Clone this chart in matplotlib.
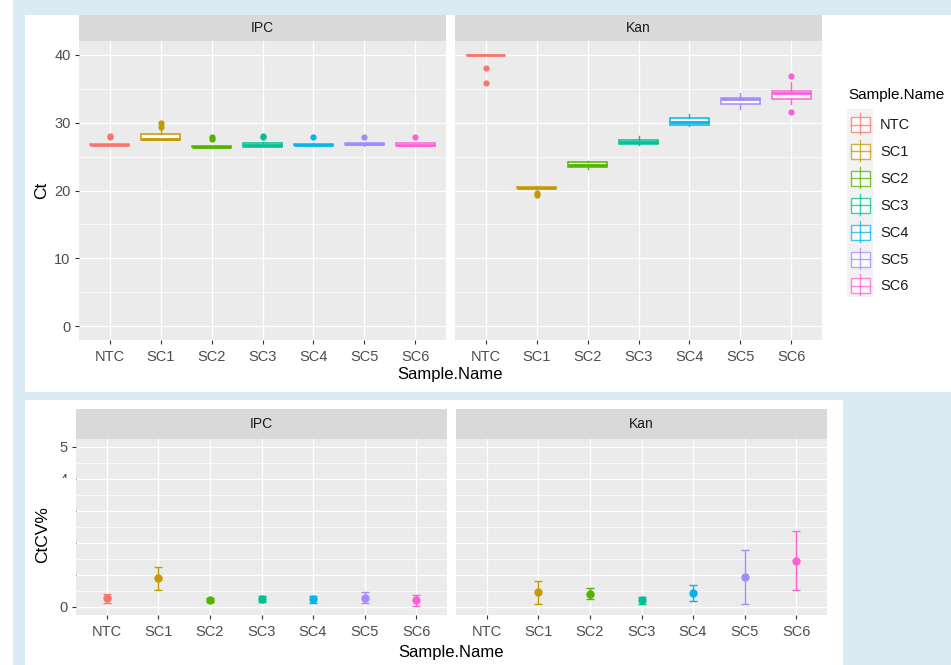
import numpy as np
import matplotlib
matplotlib.use("Agg")
import matplotlib.pyplot as plt
from matplotlib.patches import Rectangle

plt.rcParams['font.family'] = ['Liberation Sans', 'DejaVu Sans']

# ---- data -------------------------------------------------------------
samples = ["NTC", "SC1", "SC2", "SC3", "SC4", "SC5", "SC6"]
targets = ["IPC", "Kan"]
colors = ["#F8766D", "#C49A00", "#53B400", "#00C094", "#00B6EB", "#A58AFF", "#FB61D7"]

# Ct box statistics per target (q1, median, q3, lower whisker, upper whisker)
ipc_q1 = [26.70, 27.45, 26.40, 26.45, 26.70, 26.65, 26.60]
ipc_med = [26.75, 27.60, 26.45, 26.70, 26.75, 26.80, 26.75]
ipc_q3 = [26.80, 28.30, 26.50, 26.95, 26.85, 27.00, 27.00]
ipc_lo = [26.70, 27.40, 26.40, 26.40, 26.70, 26.60, 26.60]
ipc_hi = [26.80, 29.10, 26.55, 27.10, 27.00, 27.05, 27.05]
ipc_out = [[27.8, 28.0], [29.4, 30.0], [27.6, 27.8], [27.8, 28.0], [27.9], [27.9], [27.9]]

kan_q1 = [40.00, 20.30, 23.50, 26.80, 29.70, 32.75, 33.45]
kan_med = [40.00, 20.40, 23.75, 27.20, 30.15, 33.40, 34.40]
kan_q3 = [40.00, 20.55, 24.15, 27.50, 30.60, 33.60, 34.65]
kan_lo = [40.00, 20.20, 23.20, 26.70, 29.50, 32.00, 32.70]
kan_hi = [40.00, 20.70, 24.40, 28.00, 31.20, 34.30, 36.00]
kan_out = [[38.1, 35.8], [19.4, 19.7], [], [], [], [], [31.5, 36.8]]

# Ct coefficient of variation (%): mean with lower / upper bounds
ipc_cv = [0.28, 0.91, 0.23, 0.25, 0.25, 0.29, 0.21]
ipc_cv_lo = [0.14, 0.53, 0.17, 0.17, 0.14, 0.13, 0.03]
ipc_cv_hi = [0.41, 1.26, 0.29, 0.33, 0.35, 0.46, 0.37]
kan_cv = [np.nan, 0.46, 0.41, 0.21, 0.45, 0.95, 1.43]
kan_cv_lo = [np.nan, 0.08, 0.24, 0.09, 0.20, 0.08, 0.53]
kan_cv_hi = [np.nan, 0.82, 0.60, 0.32, 0.70, 1.79, 2.37]

ct_ticks = [0, 10, 20, 30, 40]
cv_ticks = [0, 1, 2, 3, 4, 5]

# ---- figure -----------------------------------------------------------
W, H = 951, 665
fig = plt.figure(figsize=(W / 100, H / 100), dpi=100)
fig.patch.set_facecolor("white")

PANEL_BG = "#EBEBEB"
STRIP_BG = "#D9D9D9"
PAGE_BG = "#DAEBF3"
TICK_COL = "#4D4D4D"


def px_axes(x0, y0, x1, y1, **kw):
    return fig.add_axes([x0 / W, 1 - y1 / H, (x1 - x0) / W, (y1 - y0) / H], **kw)


# page background with two white cards
bg = px_axes(0, 0, W, H)
bg.set_xlim(0, W)
bg.set_ylim(H, 0)
bg.axis("off")
bg.add_patch(Rectangle((13, 0), W - 13, H, color=PAGE_BG, lw=0))
bg.add_patch(Rectangle((25, 15), W - 25, 377, color="white", lw=0))
bg.add_patch(Rectangle((25, 400), 818, 265, color="white", lw=0))


def style_panel(ax, ylim, major, minor, show_y):
    ax.set_facecolor(PANEL_BG)
    for s in ax.spines.values():
        s.set_visible(False)
    ax.set_xlim(0.4, len(samples) + 0.6)
    ax.set_ylim(*ylim)
    ax.set_xticks(np.arange(1, len(samples) + 1))
    ax.set_xticklabels(samples)
    ax.set_yticks(major)
    ax.set_yticks(minor, minor=True)
    ax.grid(True, which="major", color="white", lw=0.95)
    ax.grid(True, which="minor", axis="y", color="white", lw=0.5)
    ax.set_axisbelow(True)
    ax.tick_params(axis="both", which="major", length=3, width=0.8, color="#333333",
                   labelcolor=TICK_COL, labelsize=10.5)
    ax.tick_params(axis="x", pad=4)
    ax.tick_params(axis="y", pad=3)
    ax.tick_params(which="minor", length=0)
    if not show_y:
        ax.tick_params(axis="y", which="both", left=False, labelleft=False)


def strip(x0, x1, y0, y1, label):
    bg.add_patch(Rectangle((x0, y0), x1 - x0, y1 - y0, color=STRIP_BG, lw=0))
    bg.text((x0 + x1) / 2, (y0 + y1) / 2, label, ha="center", va="center",
            fontsize=10, color="#1A1A1A")


def draw_boxes(ax, q1, med, q3, lo, hi, out):
    stats = []
    for i in range(len(samples)):
        stats.append(dict(q1=q1[i], med=med[i], q3=q3[i], whislo=lo[i],
                          whishi=hi[i], fliers=out[i]))
    pos = np.arange(1, len(samples) + 1)
    art = ax.bxp(stats, positions=pos, widths=0.75, showcaps=False,
                 patch_artist=True, manage_ticks=False)
    for i, c in enumerate(colors):
        art["boxes"][i].set(facecolor="white", edgecolor=c, lw=1.1)
        art["medians"][i].set(color=c, lw=2.0)
        for w in art["whiskers"][2 * i:2 * i + 2]:
            w.set(color=c, lw=1.0)
        art["fliers"][i].set(marker="o", markerfacecolor=c, markeredgecolor=c,
                             markersize=4.5, markeredgewidth=0)


def draw_cv(ax, mean, lo, hi):
    for i, c in enumerate(colors):
        if np.isnan(mean[i]):
            continue
        ax.errorbar([i + 1], [mean[i]], yerr=[[mean[i] - lo[i]], [hi[i] - mean[i]]],
                    fmt="o", color=c, ms=5, elinewidth=1.0, capsize=3, capthick=1.0)


# ---- top: Ct boxplots -------------------------------------------------
ax1 = px_axes(79, 41, 446, 340)
ax2 = px_axes(455, 41, 822, 340)
style_panel(ax1, (-2, 42), ct_ticks, [5, 15, 25, 35], True)
style_panel(ax2, (-2, 42), ct_ticks, [5, 15, 25, 35], False)
draw_boxes(ax1, ipc_q1, ipc_med, ipc_q3, ipc_lo, ipc_hi, ipc_out)
draw_boxes(ax2, kan_q1, kan_med, kan_q3, kan_lo, kan_hi, kan_out)
strip(79, 446, 15, 41, targets[0])
strip(455, 822, 15, 41, targets[1])
bg.text(450, 375, "Sample.Name", ha="center", va="center", fontsize=12, color="black")
bg.text(42, 190, "Ct", ha="center", va="center", rotation=90, fontsize=12.5, color="black")

# legend
bg.add_patch(Rectangle((847, 109), 26, 188, color="#F2F2F2", lw=0))
bg.text(848, 95, "Sample.Name", ha="left", va="center", fontsize=11, color="black")
for i, (name, c) in enumerate(zip(samples, colors)):
    yc = 125 + i * 26.9
    bg.plot([860, 860], [yc - 12, yc + 9], color=c, lw=1.0, alpha=0.75)
    bg.add_patch(Rectangle((851, yc - 8), 19, 15, facecolor="white", edgecolor=c,
                           lw=1.0, alpha=0.75))
    bg.plot([851, 870], [yc - 0.5, yc - 0.5], color=c, lw=1.0, alpha=0.75)
    bg.text(880, yc, name, ha="left", va="center", fontsize=10.5, color="#1A1A1A")

# ---- bottom: Ct CV% ---------------------------------------------------
ax3 = px_axes(76, 439, 447, 615)
ax4 = px_axes(456, 439, 827, 615)
cv_minor = np.arange(0.5, 5.5, 1.0)
style_panel(ax3, (-0.25, 5.25), cv_ticks, cv_minor, True)
style_panel(ax4, (-0.25, 5.25), cv_ticks, cv_minor, False)
draw_cv(ax3, ipc_cv, ipc_cv_lo, ipc_cv_hi)
draw_cv(ax4, kan_cv, kan_cv_lo, kan_cv_hi)
strip(76, 447, 409, 439, targets[0])
strip(456, 827, 409, 439, targets[1])
bg.text(451, 653, "Sample.Name", ha="center", va="center", fontsize=12, color="black")

# white block over the middle of the CV axis labels
cover = px_axes(50, 478, 75.5, 601)
cover.set_facecolor("white")
cover.set_xticks([])
cover.set_yticks([])
for s in cover.spines.values():
    s.set_visible(False)
cover.text(-0.3, 0.54, "CtCV%", transform=cover.transAxes, rotation=90,
           ha="center", va="center", fontsize=12.5, color="black", clip_on=False)

fig.savefig("out.png", dpi=100, facecolor=fig.get_facecolor())
